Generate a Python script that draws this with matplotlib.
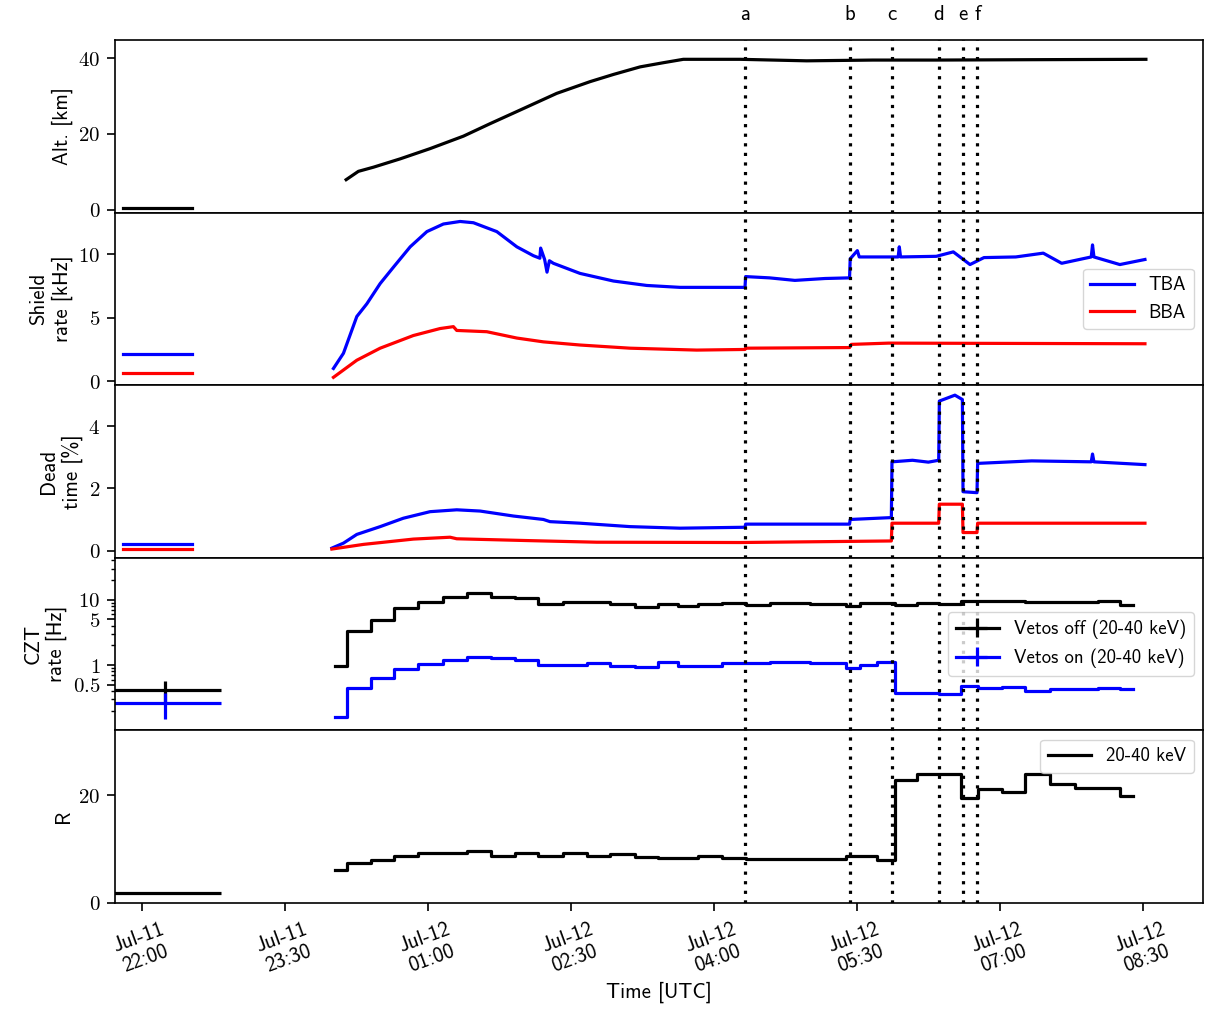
import matplotlib
matplotlib.use('Agg')
import matplotlib.pyplot as plt
import matplotlib.dates as mdates
from matplotlib.ticker import FixedLocator, LogLocator, NullFormatter
from datetime import datetime
import numpy as np

plt.rcParams['font.family'] = ['cmss10', 'DejaVu Sans']
plt.rcParams['mathtext.fontset'] = 'cm'
plt.rcParams['axes.unicode_minus'] = False
plt.rcParams['axes.linewidth'] = 1.2

# time axis: minutes after Jul-11 22:00 UTC
T0 = mdates.date2num(datetime(2019, 7, 11, 22, 0))


def tt(m):
    return T0 + np.asarray(m, dtype=float) / 1440.0


# event markers a-f
ev_names = ['a', 'b', 'c', 'd', 'e', 'f']
ev_t = [379.8, 445.6, 471.9, 501.7, 516.6, 525.8]

# ground segment (before launch)
gnd_t = [-11.7, 31.6]
gnd_alt = [0.5, 0.5]
gnd_tba = [2.12, 2.12]
gnd_bba = [0.68, 0.68]
gnd_dt_tba = [0.21, 0.21]
gnd_dt_bba = [0.06, 0.06]
gnd_czt_t = 14.3
gnd_czt_half = 35.5
gnd_czt_off, gnd_czt_off_err = 0.42, 0.15
gnd_czt_on, gnd_czt_on_err = 0.258, 0.11
gnd_R = 1.9

# altitude [km]
alt_t = [128.6, 136.3, 145.8, 162.6, 181.4, 202.4, 219.2, 238.1, 261.1, 282.1,
         296.8, 313.6, 328.2, 340.8, 376.5, 418.4, 460.0, 500.0, 560.0, 631.9]
alt = [7.9, 10.1, 11.2, 13.4, 16.1, 19.4, 22.7, 26.3, 30.7, 33.8,
       35.7, 37.7, 38.8, 39.7, 39.7, 39.3, 39.5, 39.5, 39.6, 39.7]

# shield rate [kHz]
tba_t = [120.6, 126.9, 135.3, 141.6, 150.0, 158.4, 168.9, 179.4, 189.8, 200.3,
         208.7, 223.4, 236.0, 246.4, 250.5, 251.0, 253.5, 255.0, 256.5, 259.0,
         275.8, 296.8, 317.8, 338.7, 379.6, 380.0, 395.0, 411.0, 430.0, 445.4,
         445.8, 450.3, 451.5, 476.0, 476.7, 477.5, 500.0, 510.7, 521.2, 530.0,
         550.0, 567.3, 578.9, 597.5, 598.3, 599.2, 615.5, 631.3]
tba = [1.0, 2.2, 5.1, 6.1, 7.7, 9.0, 10.6, 11.8, 12.4, 12.6,
       12.5, 11.8, 10.6, 9.9, 9.7, 10.5, 9.6, 8.6, 9.5, 9.3,
       8.5, 7.9, 7.55, 7.4, 7.4, 8.25, 8.15, 7.95, 8.1, 8.15,
       9.65, 10.3, 9.8, 9.8, 10.6, 9.8, 9.85, 10.2, 9.2, 9.75,
       9.8, 10.1, 9.3, 9.8, 10.75, 9.8, 9.2, 9.6]
bba_t = [120.6, 135.3, 150.0, 170.9, 187.7, 196.1, 198.2, 217.1, 236.0, 252.7,
         275.8, 307.3, 349.2, 379.6, 380.0, 445.4, 446.5, 470.0, 631.3]
bba = [0.3, 1.65, 2.6, 3.6, 4.15, 4.3, 4.0, 3.9, 3.4, 3.1,
       2.85, 2.6, 2.45, 2.5, 2.6, 2.65, 2.9, 3.0, 2.95]

# dead time [%]
dt_tba_t = [119.6, 126.9, 135.3, 150.0, 164.6, 181.4, 198.2, 212.9, 233.9, 252.7,
            256.9, 275.8, 307.3, 338.7, 379.6, 380.0, 445.4, 445.8, 471.7, 472.1,
            485.0, 495.0, 501.5, 501.9, 511.7, 516.4, 516.8, 525.6, 526.0, 560.0,
            597.5, 598.3, 599.2, 631.3]
dt_tba = [0.08, 0.24, 0.52, 0.77, 1.04, 1.25, 1.31, 1.27, 1.11, 1.0,
          0.93, 0.88, 0.77, 0.72, 0.75, 0.85, 0.85, 1.0, 1.06, 2.85,
          2.9, 2.84, 2.9, 4.8, 4.99, 4.85, 1.89, 1.86, 2.8, 2.88,
          2.85, 3.1, 2.85, 2.76]
dt_bba_t = [119.6, 139.5, 170.9, 194.0, 198.2, 244.4, 286.3, 376.5, 471.7, 472.1,
            501.5, 501.9, 516.4, 516.8, 525.6, 526.0, 631.3]
dt_bba = [0.05, 0.2, 0.37, 0.43, 0.38, 0.32, 0.27, 0.26, 0.31, 0.88,
          0.88, 1.49, 1.49, 0.58, 0.58, 0.88, 0.88]

# CZT rates [Hz], binned (bin edges in minutes)
czt_edges = [121.7, 129.4, 144.1, 158.8, 174.1, 189.8, 204.5, 219.6, 234.9, 249.6,
             265.3, 280.0, 294.7, 310.4, 325.1, 337.7, 350.2, 365.0, 380.0, 395.3,
             420.5, 443.2, 452.0, 462.5, 474.0, 487.6, 501.7, 515.3, 526.4, 541.1,
             555.8, 571.5, 587.2, 601.9, 615.5, 623.9]
czt_off = [0.97, 3.34, 4.92, 7.45, 9.4, 11.0, 12.7, 11.2, 10.6, 8.67,
           9.1, 9.2, 8.6, 7.8, 8.77, 8.1, 8.6, 8.9, 8.4, 8.9,
           8.6, 7.9, 8.9, 8.9, 8.4, 8.9, 8.7, 9.66, 9.66, 9.66,
           9.1, 9.1, 9.2, 9.66, 8.4]
czt_on = [0.16, 0.448, 0.64, 0.87, 1.05, 1.19, 1.34, 1.27, 1.19, 1.02,
          1.0, 1.06, 0.965, 0.94, 1.1, 0.975, 0.975, 1.08, 1.06, 1.12,
          1.06, 0.91, 1.02, 1.12, 0.38, 0.38, 0.358, 0.48, 0.448, 0.46,
          0.398, 0.427, 0.427, 0.448, 0.427]
R_vals = [6.1, 7.5, 8.0, 8.7, 9.3, 9.2, 9.6, 8.8, 9.2, 8.7,
          9.2, 8.8, 9.0, 8.5, 8.3, 8.3, 8.7, 8.3, 8.15, 8.2,
          8.2, 8.8, 8.8, 7.96, 22.8, 24.0, 24.0, 19.4, 21.1, 20.5,
          24.0, 22.0, 21.4, 21.4, 19.8]

LW = 2.3
FS = 15
LFS = 13.5

fig, axs = plt.subplots(5, 1, sharex=True, figsize=(12.05, 10.18), dpi=100)
fig.subplots_adjust(left=0.0954, right=0.9983, top=0.9607, bottom=0.1130, hspace=0)


def steps(ax, vals, **kw):
    ax.step(tt(czt_edges), list(vals) + [vals[-1]], where='post', lw=LW, **kw)


# altitude
ax = axs[0]
ax.plot(tt(gnd_t), gnd_alt, color='k', lw=LW)
ax.plot(tt(alt_t), alt, color='k', lw=LW)
ax.set_ylim(-0.8, 44.8)
ax.set_yticks([0, 20, 40])
ax.set_ylabel('Alt. [km]', fontsize=FS)

# shield rate
ax = axs[1]
ax.plot(tt(gnd_t), gnd_tba, color='b', lw=LW)
ax.plot(tt(gnd_t), gnd_bba, color='r', lw=LW)
ax.plot(tt(tba_t), tba, color='b', lw=LW, label='TBA')
ax.plot(tt(bba_t), bba, color='r', lw=LW, label='BBA')
ax.set_ylim(-0.32, 13.3)
ax.set_yticks([0, 5, 10])
ax.set_ylabel('Shield\nrate [kHz]', fontsize=FS)
ax.legend(loc='center right', fontsize=LFS, handlelength=2.3)

# dead time
ax = axs[2]
ax.plot(tt(gnd_t), gnd_dt_tba, color='b', lw=LW)
ax.plot(tt(gnd_t), gnd_dt_bba, color='r', lw=LW)
ax.plot(tt(dt_tba_t), dt_tba, color='b', lw=LW)
ax.plot(tt(dt_bba_t), dt_bba, color='r', lw=LW)
ax.set_ylim(-0.23, 5.31)
ax.set_yticks([0, 2, 4])
ax.set_ylabel('Dead\ntime [%]', fontsize=FS)

# CZT rate
ax = axs[3]
ax.set_yscale('log')
ax.errorbar(tt([gnd_czt_t]), [gnd_czt_off], xerr=[gnd_czt_half / 1440.0],
            yerr=[gnd_czt_off_err], fmt='-', color='k', lw=LW, elinewidth=LW,
            label='Vetos off (20-40 keV)')
ax.errorbar(tt([gnd_czt_t]), [gnd_czt_on], xerr=[gnd_czt_half / 1440.0],
            yerr=[gnd_czt_on_err], fmt='-', color='b', lw=LW, elinewidth=LW,
            label='Vetos on (20-40 keV)')
steps(ax, czt_off, color='k')
steps(ax, czt_on, color='b')
ax.set_ylim(0.1, 44)
ax.yaxis.set_major_locator(FixedLocator([0.5, 1, 5, 10]))
ax.yaxis.set_minor_locator(LogLocator(base=10, subs=np.arange(2, 10), numticks=20))
ax.yaxis.set_minor_formatter(NullFormatter())
ax.set_yticklabels(['$0.5$', '$1$', '$5$', '$10$'])
ax.set_ylabel('CZT\nrate [Hz]', fontsize=FS)
ax.legend(loc='center right', fontsize=LFS, handlelength=2.3)

# ratio
ax = axs[4]
ax.errorbar(tt([gnd_czt_t]), [gnd_R], xerr=[gnd_czt_half / 1440.0], fmt='none',
            ecolor='k', elinewidth=LW)
steps(ax, R_vals, color='k', label='20-40 keV')
ax.set_ylim(0, 32)
ax.set_yticks([0, 20])
ax.set_ylabel('R', fontsize=FS)
ax.legend(loc='upper right', fontsize=LFS, handlelength=2.3)

for i, ax in enumerate(axs):
    for t in ev_t:
        ax.axvline(tt(t), color='k', lw=LW, ls=(0, (1, 2.0)), zorder=5)
    ax.tick_params(axis='y', direction='out', length=5.5, width=1.2, pad=5,
                   labelsize=FS)
    ax.tick_params(axis='y', which='minor', length=3, width=1.0)
    if ax is not axs[3]:
        ax.yaxis.set_major_formatter(plt.FuncFormatter(lambda v, p: '$%g$' % v))
    if i < 4:
        ax.tick_params(axis='x', which='both', bottom=False)

axs[0].set_xlim(tt(-16.9), tt(667.8))
axs[-1].set_xticks(tt(np.arange(0, 631, 90)))
axs[-1].xaxis.set_major_formatter(mdates.DateFormatter('%b-%d\n%H:%M'))
axs[-1].tick_params(axis='x', direction='out', length=6, width=1.2, pad=6,
                    labelsize=FS)
for lab in axs[-1].get_xticklabels():
    lab.set_rotation(20)
    lab.set_ha('center')
axs[-1].set_xlabel('Time [UTC]', fontsize=FS)

for name, t in zip(ev_names, ev_t):
    axs[0].text(tt(t), 1.145, name, transform=axs[0].get_xaxis_transform(),
                ha='center', va='center', fontsize=FS)

fig.savefig('out.png', dpi=100)
